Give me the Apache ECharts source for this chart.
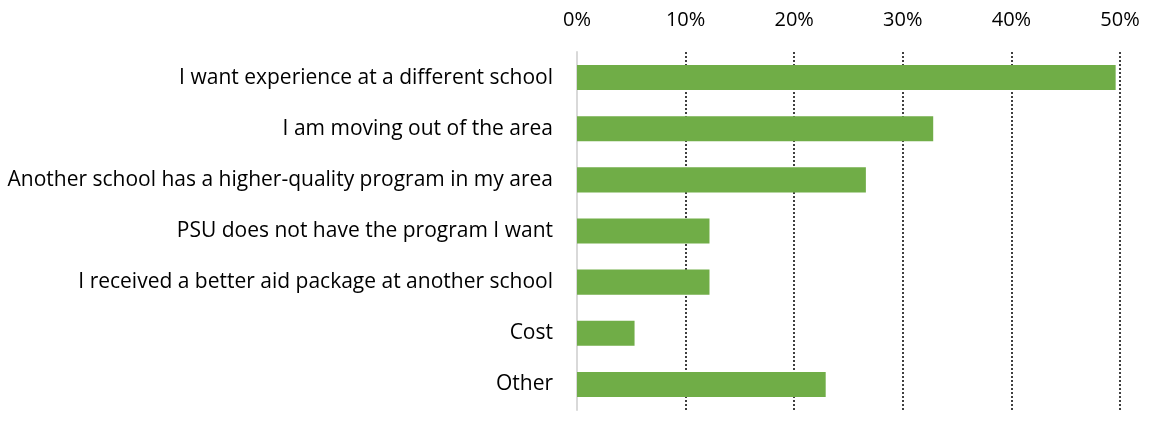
<!DOCTYPE html>
<html>
<head>
<meta charset="utf-8">
<script src="https://cdn.jsdelivr.net/npm/echarts@6/dist/echarts.min.js"></script>
<style>
  html, body { margin: 0; padding: 0; background: #fff; }
  #myChart { width: 1149px; height: 425px; }
</style>
</head>
<body>
<div id="myChart"></div>
<script>
// reasons, top to bottom as shown
const reasons = [
  "I want experience at a different school",
  "I am moving out of the area",
  "Another school has a higher-quality program in my area",
  "PSU does not have the program I want",
  "I received a better aid package at another school",
  "Cost",
  "Other"
];
// share of respondents (%)
const shares = [49.6, 32.8, 26.6, 12.2, 12.2, 5.3, 22.9];
const tickLabels = ["0%", "10%", "20%", "30%", "40%", "50%"];

const myChart = echarts.init(document.getElementById("myChart"));
myChart.setOption({
  animation: false,
  grid: { left: 577, right: 29, top: 52, bottom: 15, containLabel: false },
  xAxis: {
    type: "value",
    position: "top",
    min: 0,
    max: 50,
    interval: 10,
    axisLine: { show: false },
    axisTick: { show: false },
    axisLabel: {
      margin: 22,
      fontFamily: "Open Sans",
      fontSize: 20,
      color: "#000",
      formatter: (v) => tickLabels[Math.round(v / 10)]
    },
    splitLine: {
      show: true,
      showMinLine: false, // no dotted line over the 0% axis
      lineStyle: { color: "#000", width: 1.5, type: [2, 2] }
    }
  },
  yAxis: {
    type: "category",
    inverse: true,
    data: reasons,
    axisLine: { show: true, lineStyle: { color: "#d9d9d9", width: 2 } },
    axisTick: { show: false },
    axisLabel: {
      margin: 24,
      fontFamily: "Open Sans",
      fontSize: 21,
      color: "#000"
    }
  },
  series: [
    {
      type: "bar",
      data: shares,
      barWidth: "49%",
      itemStyle: { color: "#70ad47" }
    }
  ]
});
</script>
</body>
</html>
